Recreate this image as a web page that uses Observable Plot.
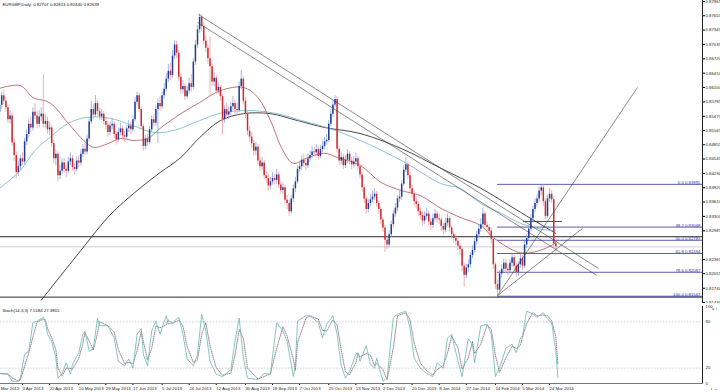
<!DOCTYPE html>
<html><head><meta charset="utf-8">
<script src="https://cdn.jsdelivr.net/npm/d3@7"></script>
<script src="https://cdn.jsdelivr.net/npm/@observablehq/plot@0.6"></script>
<style>
html,body{margin:0;padding:0;background:#fff;}
#wrap{position:relative;width:720px;height:392px;overflow:hidden;background:#fff}
#main{position:absolute;left:0;top:0}
#stoch{position:absolute;left:0;top:303px}
</style></head><body>
<div id="wrap"><div id="main"></div><div id="stoch"></div></div>
<script>
// ---- data (daily bars from 19 Mar 2013) ----
const opens = [
0.8556,0.8571,0.8592,0.8580,0.8566,0.8540,0.8548,0.8490,0.8462,0.8425,
0.8438,0.8455,0.8448,0.8492,0.8508,0.8530,0.8522,0.8556,0.8548,0.8530,
0.8546,0.8552,0.8530,0.8536,0.8518,0.8522,0.8488,0.8455,0.8465,0.8418,
0.8428,0.8446,0.8432,0.8428,0.8448,0.8455,0.8436,0.8432,0.8450,0.8446,
0.8465,0.8476,0.8470,0.8498,0.8535,0.8562,0.8550,0.8575,0.8558,0.8546,
0.8552,0.8536,0.8528,0.8512,0.8526,0.8530,0.8508,0.8496,0.8512,0.8520,
0.8505,0.8502,0.8520,0.8526,0.8518,0.8540,0.8578,0.8592,0.8562,0.8525,
0.8482,0.8498,0.8490,0.8518,0.8540,0.8532,0.8562,0.8575,0.8568,0.8592,
0.8606,0.8628,0.8645,0.8636,0.8678,0.8702,0.8684,0.8632,0.8605,0.8612,
0.8590,0.8602,0.8618,0.8610,0.8665,0.8702,0.8735,0.8762,0.8742,0.8710,
0.8695,0.8672,0.8655,0.8622,0.8630,0.8602,0.8610,0.8590,0.8540,0.8562,
0.8550,0.8556,0.8568,0.8575,0.8562,0.8560,0.8612,0.8628,0.8580,0.8552,
0.8515,0.8502,0.8488,0.8472,0.8480,0.8450,0.8438,0.8446,0.8418,0.8412,
0.8396,0.8405,0.8412,0.8408,0.8420,0.8398,0.8386,0.8392,0.8365,0.8358,
0.8340,0.8368,0.8390,0.8405,0.8432,0.8438,0.8452,0.8445,0.8440,0.8455,
0.8462,0.8470,0.8468,0.8475,0.8460,0.8475,0.8482,0.8492,0.8495,0.8530,
0.8552,0.8572,0.8584,0.8476,0.8450,0.8458,0.8440,0.8452,0.8465,0.8450,
0.8442,0.8448,0.8455,0.8438,0.8420,0.8392,0.8368,0.8345,0.8358,0.8366,
0.8372,0.8378,0.8358,0.8345,0.8322,0.8305,0.8278,0.8268,0.8290,0.8312,
0.8335,0.8348,0.8368,0.8372,0.8400,0.8430,0.8442,0.8418,0.8390,0.8378,
0.8362,0.8356,0.8340,0.8332,0.8320,0.8330,0.8335,0.8318,0.8310,0.8325,
0.8335,0.8325,0.8322,0.8308,0.8300,0.8315,0.8325,0.8305,0.8290,0.8282,
0.8276,0.8265,0.8258,0.8222,0.8202,0.8218,0.8225,0.8245,0.8256,0.8275,
0.8290,0.8302,0.8312,0.8335,0.8310,0.8306,0.8298,0.8280,0.8225,0.8182,
0.8170,0.8205,0.8215,0.8228,0.8215,0.8212,0.8228,0.8240,0.8222,0.8208,
0.8225,0.8238,0.8222,0.8268,0.8282,0.8302,0.8325,0.8345,0.8358,0.8368,
0.8385,0.8392,0.8362,0.8330,0.8368,0.8378,0.8366,0.82707];
const highs = [
0.8582,0.8600,0.8605,0.8588,0.8572,0.8560,0.8555,0.8498,0.8470,0.8450,
0.8462,0.8468,0.8500,0.8518,0.8540,0.8545,0.8566,0.8575,0.8558,0.8560,
0.8566,0.8638,0.8550,0.8545,0.8535,0.8528,0.8495,0.8475,0.8470,0.8440,
0.8455,0.8455,0.8440,0.8458,0.8468,0.8462,0.8445,0.8460,0.8462,0.8475,
0.8486,0.8490,0.8506,0.8545,0.8580,0.8572,0.8592,0.8582,0.8565,0.8562,
0.8558,0.8545,0.8535,0.8535,0.8542,0.8536,0.8515,0.8522,0.8532,0.8526,
0.8515,0.8528,0.8538,0.8535,0.8548,0.8588,0.8600,0.8598,0.8568,0.8530,
0.8505,0.8508,0.8525,0.8548,0.8550,0.8570,0.8585,0.8590,0.8600,0.8618,
0.8640,0.8660,0.8662,0.8690,0.8712,0.8710,0.8690,0.8640,0.8625,0.8618,
0.8612,0.8630,0.8638,0.8672,0.8712,0.8745,0.8770,0.8768,0.8750,0.8722,
0.8702,0.8719,0.8662,0.8642,0.8636,0.8620,0.8615,0.8595,0.8570,0.8575,
0.8568,0.8578,0.8590,0.8582,0.8575,0.8622,0.8647,0.8634,0.8588,0.8558,
0.8525,0.8512,0.8495,0.8490,0.8486,0.8458,0.8458,0.8452,0.8428,0.8420,
0.8415,0.8425,0.8422,0.8432,0.8426,0.8405,0.8402,0.8398,0.8375,0.8365,
0.8375,0.8398,0.8415,0.8440,0.8450,0.8462,0.8465,0.8455,0.8465,0.8472,
0.8482,0.8480,0.8486,0.8482,0.8484,0.8492,0.8502,0.8508,0.8538,0.8562,
0.8582,0.8592,0.8590,0.8482,0.8470,0.8465,0.8462,0.8475,0.8470,0.8458,
0.8460,0.8468,0.8460,0.8442,0.8425,0.8398,0.8372,0.8366,0.8378,0.8385,
0.8390,0.8384,0.8364,0.8350,0.8328,0.8310,0.8285,0.8298,0.8320,0.8342,
0.8358,0.8375,0.8385,0.8408,0.8440,0.8458,0.8448,0.8425,0.8398,0.8385,
0.8372,0.8362,0.8348,0.8340,0.8340,0.8348,0.8342,0.8325,0.8335,0.8345,
0.8342,0.8335,0.8328,0.8315,0.8325,0.8335,0.8330,0.8310,0.8296,0.8290,
0.8282,0.8272,0.8262,0.8228,0.8226,0.8236,0.8252,0.8266,0.8282,0.8298,
0.8312,0.8325,0.8348,0.8340,0.8318,0.8312,0.8305,0.8285,0.8230,0.8192,
0.8212,0.8225,0.8238,0.8236,0.8225,0.8236,0.8250,0.8246,0.8228,0.8232,
0.8248,0.8245,0.8276,0.8292,0.8310,0.8334,0.8352,0.8368,0.8378,0.8394,
0.83995,0.8398,0.8368,0.8376,0.8390,0.8386,0.8372,0.82813];
const lows = [
0.8548,0.8562,0.8572,0.8556,0.8532,0.8530,0.8482,0.8450,0.8412,0.8416,
0.8430,0.8440,0.8442,0.8484,0.8500,0.8512,0.8515,0.8540,0.8520,0.8522,
0.8536,0.8522,0.8520,0.8508,0.8505,0.8480,0.8445,0.8440,0.8405,0.8410,
0.8420,0.8424,0.8415,0.8422,0.8440,0.8428,0.8420,0.8426,0.8436,0.8440,
0.8458,0.8462,0.8464,0.8492,0.8530,0.8540,0.8545,0.8548,0.8538,0.8538,
0.8528,0.8518,0.8502,0.8505,0.8518,0.8498,0.8485,0.8490,0.8505,0.8495,
0.8490,0.8496,0.8512,0.8508,0.8512,0.8535,0.8570,0.8555,0.8518,0.8472,
0.8475,0.8482,0.8485,0.8512,0.8524,0.8526,0.8488,0.8558,0.8562,0.8585,
0.8600,0.8620,0.8625,0.8630,0.8670,0.8672,0.8622,0.8595,0.8596,0.8582,
0.8584,0.8595,0.8600,0.8605,0.8658,0.8695,0.8728,0.8732,0.8702,0.8685,
0.8660,0.8590,0.8612,0.8612,0.8594,0.8595,0.8580,0.8506,0.8532,0.8540,
0.8540,0.8548,0.8560,0.8552,0.8548,0.8555,0.8605,0.8572,0.8542,0.8505,
0.8492,0.8478,0.8462,0.8462,0.8440,0.8428,0.8430,0.8410,0.8402,0.8386,
0.8388,0.8398,0.8398,0.8400,0.8390,0.8378,0.8378,0.8355,0.8345,0.8330,
0.8335,0.8360,0.8382,0.8400,0.8425,0.8430,0.8436,0.8430,0.8434,0.8448,
0.8455,0.8458,0.8460,0.8452,0.8455,0.8468,0.8475,0.8485,0.8490,0.8525,
0.8545,0.8565,0.8468,0.8440,0.8442,0.8432,0.8434,0.8445,0.8442,0.8432,
0.8435,0.8440,0.8430,0.8410,0.8382,0.8358,0.8335,0.8338,0.8350,0.8360,
0.8365,0.8350,0.8335,0.8312,0.8295,0.8252,0.8258,0.8262,0.8285,0.8305,
0.8328,0.8340,0.8360,0.8365,0.8395,0.8425,0.8410,0.8382,0.8368,0.8352,
0.8346,0.8330,0.8322,0.8310,0.8312,0.8322,0.8310,0.8300,0.8304,0.8318,
0.8316,0.8312,0.8298,0.8290,0.8294,0.8308,0.8296,0.8280,0.8272,0.8266,
0.8255,0.8245,0.8210,0.8176,0.8195,0.8208,0.8218,0.8238,0.8250,0.8268,
0.8284,0.8295,0.8306,0.8302,0.8296,0.8288,0.8270,0.8215,0.8172,0.81567,
0.8165,0.8196,0.8208,0.8206,0.8200,0.8205,0.8220,0.8214,0.8198,0.8200,
0.8218,0.8212,0.8216,0.8260,0.8275,0.8296,0.8318,0.8338,0.8350,0.8360,
0.8375,0.8352,0.8322,0.8326,0.8360,0.8358,0.8262,0.82440];
const closes = [
0.8571,0.8592,0.8580,0.8566,0.8540,0.8548,0.8490,0.8462,0.8425,0.8438,
0.8455,0.8448,0.8492,0.8508,0.8530,0.8522,0.8556,0.8548,0.8530,0.8546,
0.8552,0.8530,0.8536,0.8518,0.8522,0.8488,0.8455,0.8465,0.8418,0.8428,
0.8446,0.8432,0.8428,0.8448,0.8455,0.8436,0.8432,0.8450,0.8446,0.8465,
0.8476,0.8470,0.8498,0.8535,0.8562,0.8550,0.8575,0.8558,0.8546,0.8552,
0.8536,0.8528,0.8512,0.8526,0.8530,0.8508,0.8496,0.8512,0.8520,0.8505,
0.8502,0.8520,0.8526,0.8518,0.8540,0.8578,0.8592,0.8562,0.8525,0.8482,
0.8498,0.8490,0.8518,0.8540,0.8532,0.8562,0.8575,0.8568,0.8592,0.8606,
0.8628,0.8645,0.8636,0.8678,0.8702,0.8684,0.8632,0.8605,0.8612,0.8590,
0.8602,0.8618,0.8610,0.8665,0.8702,0.8735,0.8762,0.8742,0.8710,0.8695,
0.8672,0.8655,0.8622,0.8630,0.8602,0.8610,0.8590,0.8540,0.8562,0.8550,
0.8556,0.8568,0.8575,0.8562,0.8560,0.8612,0.8628,0.8580,0.8552,0.8515,
0.8502,0.8488,0.8472,0.8480,0.8450,0.8438,0.8446,0.8418,0.8412,0.8396,
0.8405,0.8412,0.8408,0.8420,0.8398,0.8386,0.8392,0.8365,0.8358,0.8340,
0.8368,0.8390,0.8405,0.8432,0.8438,0.8452,0.8445,0.8440,0.8455,0.8462,
0.8470,0.8468,0.8475,0.8460,0.8475,0.8482,0.8492,0.8495,0.8530,0.8552,
0.8572,0.8584,0.8476,0.8450,0.8458,0.8440,0.8452,0.8465,0.8450,0.8442,
0.8448,0.8455,0.8438,0.8420,0.8392,0.8368,0.8345,0.8358,0.8366,0.8372,
0.8378,0.8358,0.8345,0.8322,0.8305,0.8278,0.8268,0.8290,0.8312,0.8335,
0.8348,0.8368,0.8372,0.8400,0.8430,0.8442,0.8418,0.8390,0.8378,0.8362,
0.8356,0.8340,0.8332,0.8320,0.8330,0.8335,0.8318,0.8310,0.8325,0.8335,
0.8325,0.8322,0.8308,0.8300,0.8315,0.8325,0.8305,0.8290,0.8282,0.8276,
0.8265,0.8258,0.8222,0.8202,0.8218,0.8225,0.8245,0.8256,0.8275,0.8290,
0.8302,0.8312,0.8335,0.8310,0.8306,0.8298,0.8280,0.8225,0.8182,0.8170,
0.8205,0.8215,0.8228,0.8215,0.8212,0.8228,0.8240,0.8222,0.8208,0.8225,
0.8238,0.8222,0.8268,0.8282,0.8302,0.8325,0.8345,0.8358,0.8368,0.8385,
0.8392,0.8362,0.8330,0.8368,0.8378,0.8366,0.82707,0.82639];

const firstBar = "2013-03-19";
const firstDateLabel = "Mar 2013";
const dateTicks = ["2013-04-03","2013-04-22","2013-05-10","2013-05-29","2013-06-17","2013-07-05","2013-07-24","2013-08-12","2013-08-30","2013-09-18","2013-10-07","2013-10-25","2013-11-13","2013-12-02","2013-12-20","2014-01-08","2014-01-27","2014-02-14","2014-03-05","2014-03-24"];
const priceTicks = [0.87965,0.87655,0.87345,0.87035,0.86720,0.86410,0.86100,0.85785,0.85475,0.85165,0.84855,0.84545,0.84230,0.83920,0.83610,0.83300,0.82985,0.82365,0.82055,0.81740,0.81430];
const hLines = [0.82858, 0.81547];
const lastPrice = 0.82639;
const header = "EURGBP,Daily  0.82707 0.82813 0.82440 0.82639";

// moving averages read at a few bars (bar index, price)
const maRedIdx = [0,10,16,24,33,39,45,52,58,64,71,77,87,96,106,117,124,130,136,141,148,156,162,173,183,193,202,212,221,231,237,249,256,265,268];
const maRed = [0.8608,0.8614,0.8588,0.8577,0.8532,0.8501,0.8480,0.8488,0.8499,0.8495,0.8499,0.8521,0.8553,0.8577,0.8603,0.8610,0.8588,0.8538,0.8473,0.8445,0.8458,0.8467,0.8458,0.8441,0.8404,0.8386,0.8375,0.8347,0.8328,0.8310,0.8284,0.8252,0.8252,0.8267,0.8278];
const maTealIdx = [0,10,17,24,33,42,53,64,74,84,96,106,119,132,145,157,173,193,212,221,231,241,250,260,267];
const maTeal = [0.8391,0.8430,0.8473,0.8501,0.8532,0.8545,0.8543,0.8527,0.8512,0.8517,0.8538,0.8554,0.8560,0.8554,0.8538,0.8523,0.8495,0.8451,0.8401,0.8391,0.8358,0.8336,0.8315,0.8302,0.8299];
const maBlackIdx = [20,39,53,66,77,87,96,106,117,130,143,156,173,193,212,231,250,267];
const maBlack = [0.8148,0.8256,0.8333,0.8386,0.8425,0.8458,0.8501,0.8538,0.8553,0.8553,0.8538,0.8523,0.8510,0.8477,0.8434,0.8391,0.8339,0.8293];

// trend lines (bar index, price)
const tlX1 = [95.5, 95.0, 239, 239];
const tlY1 = [0.8768, 0.8751, 0.8158, 0.8158];
const tlX2 = [287.5, 286.6, 306.2, 279.8];
const tlY2 = [0.8217, 0.8202, 0.8610, 0.8304];
const shortLevel = {x1: 251.5, x2: 270.2, price: 0.8319};

// fibonacci retracement
const fibStartBar = 239;
const fibHigh = 0.83995, fibLow = 0.81567;
const fibRatios = [0, 0.382, 0.5, 0.618, 0.786, 1];

// stochastic %K read at bars
const stochIdx = [0,4,6,9,10,12,14,16,18,21,22,23,25,27,28,30,32,34,35,38,40,41,43,45,47,48,52,55,57,60,62,64,66,68,69,71,73,75,77,80,81,83,86,88,90,93,95,97,99,101,104,107,111,113,115,117,119,124,127,130,133,136,138,141,142,143,147,149,153,155,157,160,162,164,166,168,171,172,173,176,178,180,181,184,186,189,191,195,197,199,202,205,208,210,213,215,217,220,222,225,227,228,231,234,236,238,240,243,246,248,250,251,253,256,258,261,263,265,267,268];
const stochK = [13,12,3,3,7,38,42,79,81,86,79,64,55,33,7,13,27,12,25,40,64,68,42,45,85,75,75,59,29,23,32,20,64,71,38,23,68,81,64,88,77,79,86,64,32,23,38,90,68,29,12,9,18,55,85,33,7,5,13,12,79,68,55,9,25,81,88,88,79,59,77,88,64,23,7,16,38,40,29,49,25,20,33,3,7,86,90,94,72,33,20,13,9,27,20,59,64,29,9,58,51,27,75,77,64,9,20,46,51,40,59,62,94,90,86,92,84,79,42,7.5];
const stochLabel = "Stoch(14,3,3) 7.5184 27.3855";

// ---- build ----
const start = new Date(firstBar + "T00:00:00Z");
function barIndex(s){
  const t = new Date(s + "T00:00:00Z"); const d = new Date(start); let n = 0;
  const step = t >= d ? 1 : -1;
  while (d.getTime() !== t.getTime()) { d.setUTCDate(d.getUTCDate()+step); const w = d.getUTCDay(); if (w !== 0 && w !== 6) n += step; }
  return n;
}
const fmtDate = d3.utcFormat("%-d %b %Y");
const tickIdx = dateTicks.map(barIndex);
const tickText = new Map(dateTicks.map((s,k)=>[tickIdx[k], fmtDate(new Date(s+"T00:00:00Z"))]));

const candles = closes.map((c,i)=>({i, open:opens[i], close:c, high:highs[i], low:lows[i]}));
const bull = candles.filter(d=>d.close>=d.open), bear = candles.filter(d=>d.close<d.open);
const pts = (ix, ys) => ix.map((i,k)=>({i, p:ys[k]}));
const trends = tlX1.map((x,k)=>({x1:x, y1:tlY1[k], x2:tlX2[k], y2:tlY2[k]}));
const fib = fibRatios.map(r=>({r, p: fibHigh - r*(fibHigh-fibLow)}));
const stoch = stochIdx.map((i,k)=>({i, v:stochK[k]}));

const XD = [0.432, 337.4];
const font = "'Liberation Sans', Arial, sans-serif";
const NAVY = "#34349a", BLUE = "#1f3c9a", RED = "#cf2a30";

const mainPlot = Plot.plot({
  width:720, height:304, marginTop:0, marginBottom:0, marginLeft:0, marginRight:18,
  x:{domain:XD, axis:null}, y:{domain:[0.81387,0.87987], axis:null},
  style:{fontFamily:font, fontSize:"4.3px", background:"#fff", overflow:"visible"},
  marks:[
    Plot.ruleY([lastPrice], {stroke:"#c4c4c4", strokeWidth:0.8}),
    Plot.ruleY(hLines, {stroke:"#111", strokeWidth:0.9}),
    Plot.ruleY(fib, {y:"p", x1:fibStartBar, x2:XD[1], stroke:NAVY, strokeWidth:0.8}),
    Plot.text(fib, {x:XD[1], y:"p", text:d=>(d.r*100).toFixed(1)+" "+d.p.toFixed(5), textAnchor:"end", lineAnchor:"bottom", dx:-2, dy:-0.3, fill:NAVY, fontSize:4.3}),
    Plot.ruleY([shortLevel], {y:"price", x1:"x1", x2:"x2", stroke:"#222", strokeWidth:0.8}),
    Plot.line(pts(maBlackIdx, maBlack), {x:"i", y:"p", curve:"catmull-rom", stroke:"#1a1a1a", strokeWidth:0.8}),
    Plot.line(pts(maTealIdx, maTeal), {x:"i", y:"p", curve:"catmull-rom", stroke:"#6cb6c4", strokeWidth:0.8}),
    Plot.line(pts(maRedIdx, maRed), {x:"i", y:"p", curve:"catmull-rom", stroke:"#b4505c", strokeWidth:0.8}),
    Plot.ruleX(bull, {x:"i", y1:"low", y2:"high", stroke:"#7f98d0", strokeWidth:0.7}),
    Plot.ruleX(bear, {x:"i", y1:"low", y2:"high", stroke:"#e29096", strokeWidth:0.7}),
    Plot.ruleX(bull, {x:"i", y1:"open", y2:"close", stroke:BLUE, strokeWidth:1.5}),
    Plot.ruleX(bear, {x:"i", y1:"open", y2:"close", stroke:RED, strokeWidth:1.5}),
    Plot.link(trends, {x1:"x1", y1:"y1", x2:"x2", y2:"y2", stroke:"#3a3a3a", strokeWidth:0.6}),
    Plot.axisY(priceTicks, {anchor:"right", tickSize:2, tickPadding:1, tickFormat:d=>d.toFixed(5), fontSize:4.3, fill:"#222"}),
    Plot.text([...hLines, lastPrice], {x:XD[1], y:d=>d, text:d=>d.toFixed(5), textAnchor:"start", dx:3, fill:"#fff", fontSize:4.3, ariaLabel:"hl"}),
    Plot.frame({anchor:"right", stroke:"#222"}),
    Plot.frame({anchor:"bottom", stroke:"#111", strokeWidth:1.6}),
    Plot.text([header], {frameAnchor:"top-left", dx:2, dy:2, lineAnchor:"top", textAnchor:"start", fontSize:4.3, fill:"#111"})
  ]
});
document.getElementById("main").appendChild(mainPlot);

const stochPlot = Plot.plot({
  width:720, height:89, marginTop:3, marginBottom:9, marginLeft:0, marginRight:18,
  x:{domain:XD, axis:null}, y:{domain:[0,100], axis:null},
  style:{fontFamily:font, fontSize:"4.3px", background:"#fff", overflow:"visible"},
  marks:[
    Plot.ruleY([20,80], {stroke:"#b0b0b0", strokeWidth:0.6, strokeDasharray:"1.5,1.5"}),
    Plot.line(stoch, Plot.windowY({k:2, anchor:"end"}, {x:"i", y:"v", stroke:"#6e4a55", strokeWidth:0.7, strokeDasharray:"0.8,1.2"})),
    Plot.line(stoch, {x:"i", y:"v", stroke:"#66b8b0", strokeWidth:0.8}),
    Plot.axisY([0,20,80,100], {anchor:"right", tickSize:0, tickPadding:3, fontSize:4.3, fill:"#222"}),
    Plot.axisX(tickIdx, {anchor:"bottom", tickSize:2, tickPadding:1.5, tickFormat:i=>tickText.get(i), textAnchor:"start", fontSize:4.3, fill:"#222"}),
    Plot.text([firstDateLabel], {frameAnchor:"bottom-left", lineAnchor:"top", textAnchor:"start", dx:0.5, dy:3.5, fontSize:4.3, fill:"#222"}),
    Plot.frame({anchor:"right", stroke:"#222"}),
    Plot.frame({anchor:"bottom", stroke:"#777"}),
    Plot.text([stochLabel], {frameAnchor:"top-left", dx:2, dy:2, lineAnchor:"top", textAnchor:"start", fontSize:4.3, fill:"#111"})
  ]
});
document.getElementById("stoch").appendChild(stochPlot);

// black boxes behind highlighted price labels
document.querySelectorAll('g[aria-label="hl"] text').forEach(t=>{
  const b = t.getBBox();
  const r = document.createElementNS("http://www.w3.org/2000/svg","rect");
  r.setAttribute("x", b.x-1); r.setAttribute("y", b.y-0.5);
  r.setAttribute("width", 20); r.setAttribute("height", b.height+1);
  r.setAttribute("fill", "#000");
  if (t.getAttribute("transform")) r.setAttribute("transform", t.getAttribute("transform"));
  t.parentNode.insertBefore(r, t);
});
</script></body></html>
